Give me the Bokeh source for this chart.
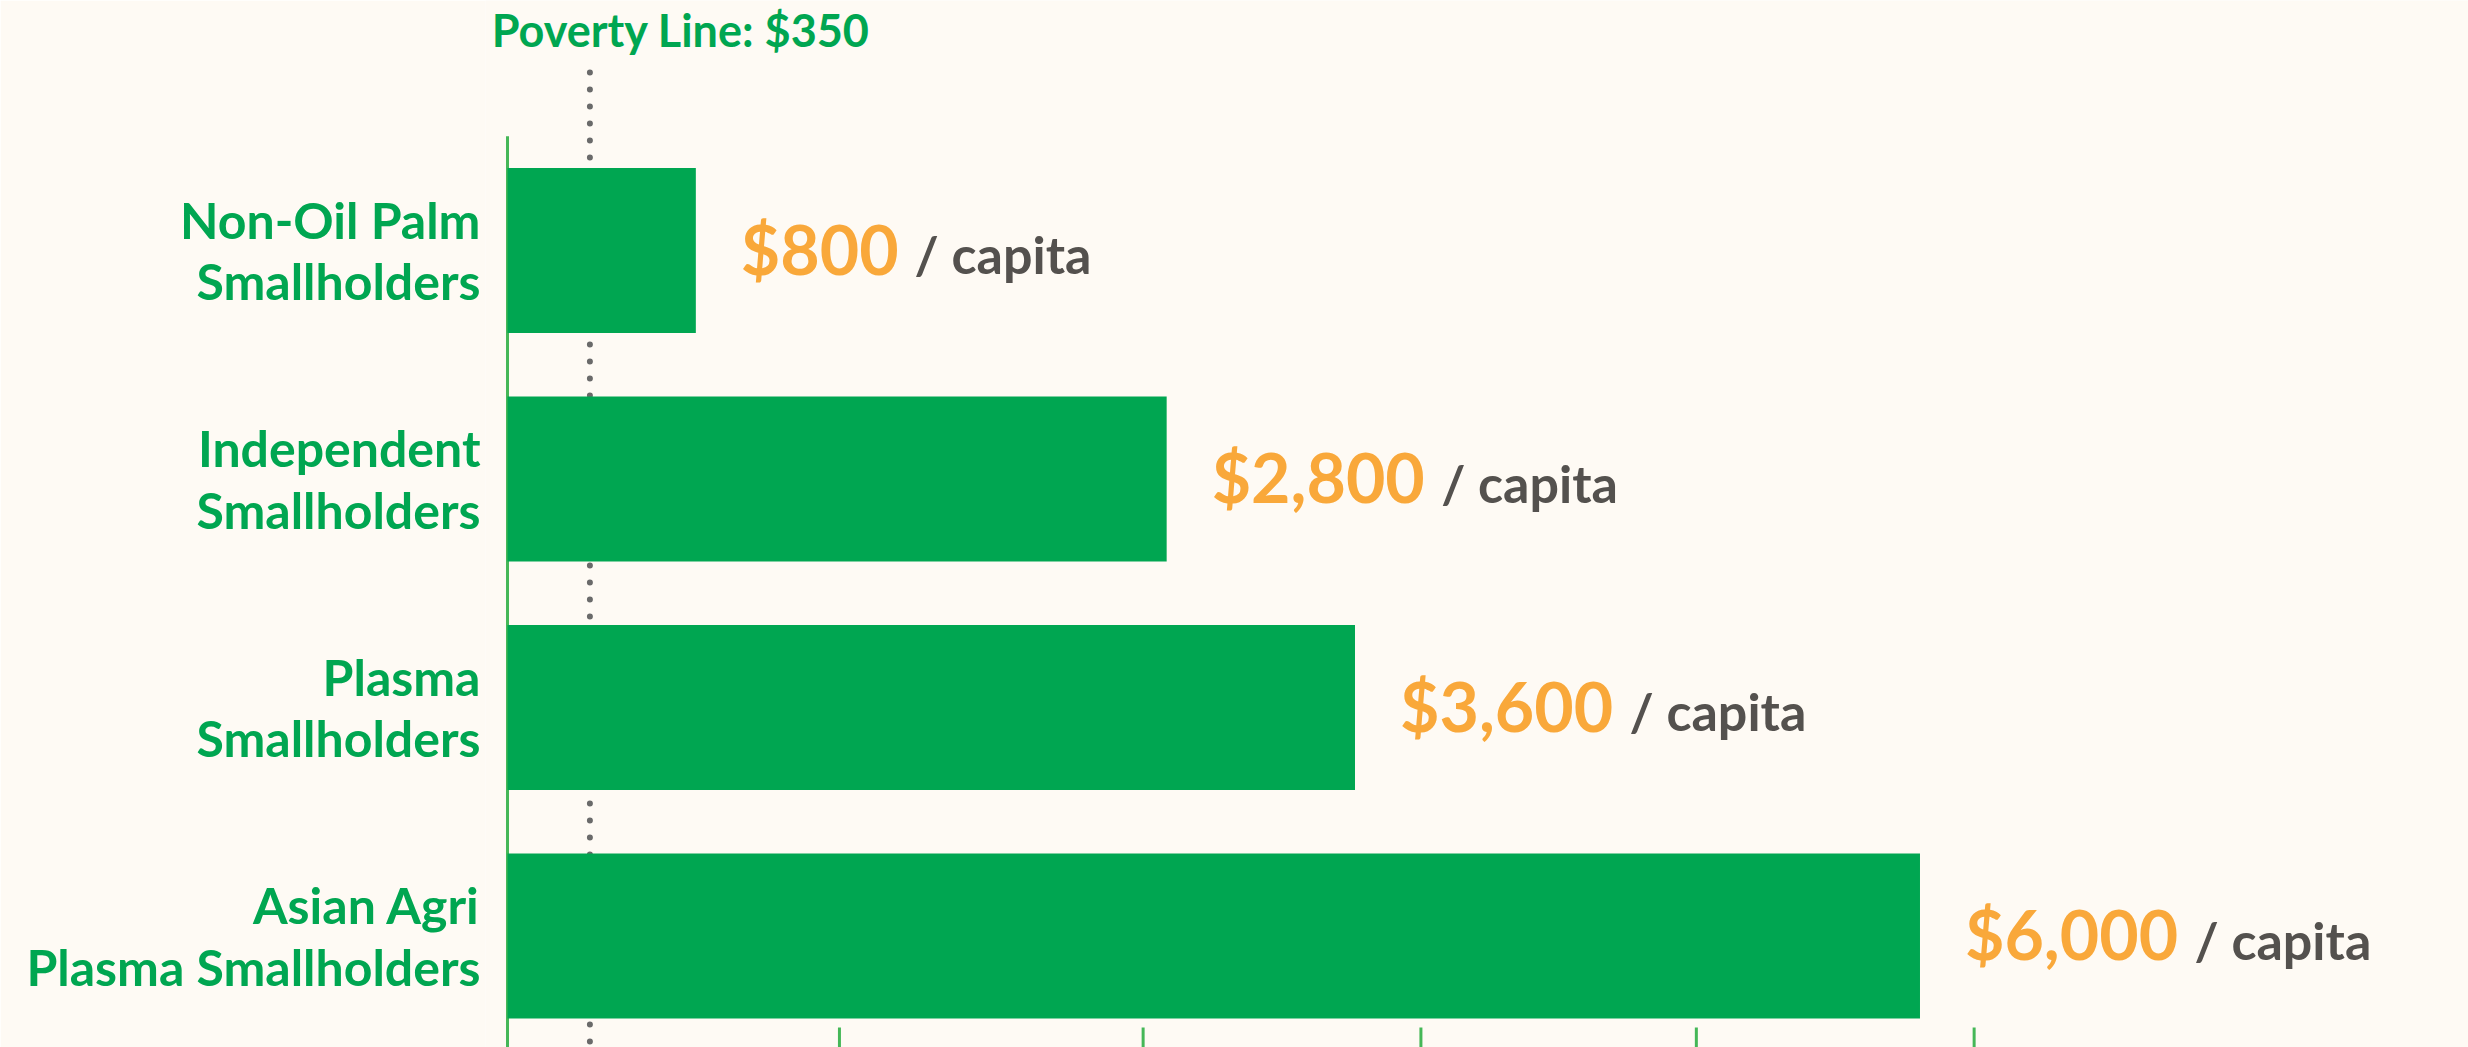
from bokeh.plotting import figure
from bokeh.models import Range1d, FixedTicker, ColumnDataSource
from bokeh.core.properties import value
from bokeh.embed import file_html
from bokeh.resources import INLINE

# ---------------- data ----------------
categories = [
    "Non-Oil Palm\nSmallholders",
    "Independent\nSmallholders",
    "Plasma\nSmallholders",
    "Asian Agri\nPlasma Smallholders",
]
income = [800, 2800, 3600, 6000]
value_labels = ["$800", "$2,800", "$3,600", "$6,000"]
unit_label = "/ capita"
poverty_line = 350
poverty_text = "Poverty Line: $350"
x_ticks = [1410, 2700, 3880, 5050, 6230]

# ---------------- styles ----------------
BG = "#FEFAF4"
GREEN = "#00A651"
AXIS_GREEN = "#45B757"
ORANGE = "#F9A83A"
GRAY_TXT = "#54514E"
DOT_GRAY = "#6A6A6A"
FONT = "Lato"

n = len(categories)
pos = list(range(n))[::-1]          # top row highest
y_min, y_max = -0.488, 4.094
y_axis_top = 3.5
y_dots_top = 3.779
y_pov_label = 3.967
tick_len = 0.0875

src = ColumnDataSource(dict(y=pos, income=income, lab=value_labels,
                            unit=[unit_label] * n))

p = figure(width=2468, height=1047, output_backend="svg", toolbar_location=None,
           x_range=Range1d(-93.5, 8330), y_range=Range1d(y_min, y_max),
           background_fill_color=BG, border_fill_color=BG,
           outline_line_color=None,
           min_border_left=485, min_border_right=0,
           min_border_top=0, min_border_bottom=0)
p.grid.visible = False
p.xaxis.visible = False

# y axis: category labels
p.yaxis.ticker = FixedTicker(ticks=pos)
p.yaxis.major_label_overrides = {pp: c for pp, c in zip(pos, categories)}
p.yaxis.axis_line_color = None
p.yaxis.major_tick_line_color = None
p.yaxis.minor_tick_line_color = None
p.yaxis.major_tick_in = 0
p.yaxis.major_tick_out = 0
p.yaxis.major_label_standoff = 5
p.yaxis.major_label_text_font = FONT
p.yaxis.major_label_text_font_style = "bold"
p.yaxis.major_label_text_font_size = "50px"
p.yaxis.major_label_text_color = GREEN
p.yaxis.major_label_text_line_height = 1.03

# bottom ticks
p.segment(x0=x_ticks, y0=[y_min] * len(x_ticks), x1=x_ticks,
          y1=[y_min + tick_len] * len(x_ticks),
          line_color=AXIS_GREEN, line_width=3)

# poverty dotted line
p.segment(x0=[poverty_line], y0=[y_dots_top], x1=[poverty_line], y1=[y_min],
          line_color=DOT_GRAY, line_width=6, line_dash="0 17", line_cap="round")
# left axis line
p.segment(x0=[0], y0=[y_axis_top], x1=[0], y1=[y_min],
          line_color=AXIS_GREEN, line_width=3)

# bars
p.hbar(y="y", left=0, right="income", height=0.722, source=src,
       fill_color=GREEN, line_color=None)

# value labels
digit_w = 0.58 * 68
comma_w = 0.24 * 68
widths = [sum(comma_w if ch == "," else digit_w for ch in s) for s in value_labels]
gap = 45
src.data["unit_off"] = [gap + w + 16 for w in widths]

p.text(x="income", y="y", text="lab", source=src, x_offset=gap, y_offset=-2,
       text_font=value(FONT), text_font_style="bold", text_font_size="68px",
       text_color=ORANGE, text_align="left", text_baseline="middle")
p.text(x="income", y="y", text="unit", source=src, x_offset="unit_off", y_offset=4,
       text_font=value(FONT), text_font_style="bold", text_font_size="52px",
       text_color=GRAY_TXT, text_align="left", text_baseline="middle")

# poverty label
p.text(x=[poverty_line], y=[y_pov_label], text=[poverty_text], x_offset=91,
       text_font=value(FONT), text_font_style="bold", text_font_size="45px",
       text_color=GREEN, text_align="center", text_baseline="middle")

open("out.html", "w").write(file_html(p, INLINE))
